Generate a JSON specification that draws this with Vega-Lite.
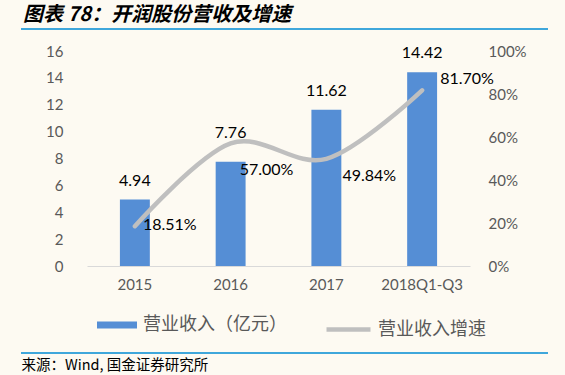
{
  "$schema": "https://vega.github.io/schema/vega-lite/v6.json",
  "width": 383,
  "height": 215,
  "autosize": {"type": "none"},
  "padding": {"left": 87, "top": 51, "right": 95, "bottom": 109},
  "background": "#FDFAF2",
  "config": {
    "view": {"stroke": null},
    "axis": {"labelFont": "Lato", "labelFontSize": 15, "labelColor": "#595959", "ticks": false, "grid": false, "domain": false, "labelOverlap": false}
  },
  "title": {
    "text": "图表 78：开润股份营收及增速",
    "anchor": "start",
    "frame": "group",
    "dx": -64,
    "offset": 3,
    "font": "Noto Sans CJK SC",
    "fontSize": 20,
    "fontWeight": "bold",
    "fontStyle": "italic",
    "color": "#000000"
  },
  "data": {
    "values": [
      {"year": "2015", "revenue": 4.94, "growth": 0.1851, "revLabel": "4.94", "growthLabel": "18.51%"},
      {"year": "2016", "revenue": 7.76, "growth": 0.57, "revLabel": "7.76", "growthLabel": "57.00%"},
      {"year": "2017", "revenue": 11.62, "growth": 0.4984, "revLabel": "11.62", "growthLabel": "49.84%"},
      {"year": "2018Q1-Q3", "revenue": 14.42, "growth": 0.817, "revLabel": "14.42", "growthLabel": "81.70%"}
    ]
  },
  "encoding": {
    "x": {
      "field": "year",
      "type": "ordinal",
      "sort": null,
      "scale": {"paddingInner": 0.6875, "paddingOuter": 0.34375},
      "axis": {
        "labelAngle": 0,
        "labelPadding": 11,
        "domain": true,
        "domainColor": "#D9D9D9",
        "domainWidth": 1,
        "title": "来源：Wind, 国金证券研究所",
        "titleX": -66,
        "titleY": 99,
        "titleAlign": "left",
        "titleBaseline": "middle",
        "titleAnchor": null,
        "titleFont": "Noto Sans CJK SC",
        "titleFontSize": 14.5,
        "titleFontWeight": "normal",
        "titleColor": "#000000"
      }
    }
  },
  "layer": [
    {
      "encoding": {
        "y": {"field": "revenue", "type": "quantitative", "scale": {"domain": [0, 16], "nice": false},
          "axis": {"orient": "left", "values": [0, 2, 4, 6, 8, 10, 12, 14, 16], "labelOverlap": false, "labelPadding": 24, "title": null}}
      },
      "layer": [
        {
          "mark": {"type": "bar"},
          "encoding": {
            "fill": {"datum": "营业收入（亿元）", "type": "nominal",
              "scale": {"domain": ["营业收入（亿元）"], "range": ["#558ED5"]},
              "legend": {"orient": "none", "legendX": 10, "legendY": 254, "title": null, "padding": 0,
                "symbolType": "M-1,-0.175H1V0.175H-1Z", "symbolSize": 1600, "symbolStrokeWidth": 0,
                "labelFont": "Noto Sans CJK SC", "labelFontSize": 18, "labelColor": "#595959", "labelOffset": 6}}
          }
        },
        {
          "transform": [{"filter": "datum.year != '2016'"}],
          "mark": {"type": "text", "font": "Lato", "fontSize": 16, "color": "#000000", "baseline": "middle", "dy": -19},
          "encoding": {"text": {"field": "revLabel"}}
        },
        {
          "transform": [{"filter": "datum.year == '2016'"}],
          "mark": {"type": "text", "font": "Lato", "fontSize": 16, "color": "#000000", "baseline": "middle", "dy": -29},
          "encoding": {"text": {"field": "revLabel"}}
        }
      ]
    },
    {
      "encoding": {
        "y": {"field": "growth", "type": "quantitative", "scale": {"domain": [0, 1], "nice": false},
          "axis": {"orient": "right", "values": [0, 0.2, 0.4, 0.6, 0.8, 1], "format": ".0%", "labelOverlap": false, "labelPadding": 18, "title": null}}
      },
      "layer": [
        {
          "mark": {"type": "line", "interpolate": "cardinal", "strokeWidth": 4.5, "strokeCap": "round"},
          "encoding": {
            "stroke": {"datum": "营业收入增速", "type": "nominal",
              "scale": {"domain": ["营业收入增速"], "range": ["#BFBFBF"]},
              "legend": {"orient": "none", "legendX": 237, "legendY": 254, "title": null, "padding": 0,
                "symbolType": "stroke", "symbolSize": 1936, "symbolStrokeWidth": 4.5,
                "labelFont": "Noto Sans CJK SC", "labelFontSize": 18, "labelColor": "#595959", "labelOffset": 5}}
          }
        },
        {
          "transform": [{"filter": "datum.year == '2015'"}],
          "mark": {"type": "text", "font": "Lato", "fontSize": 16, "color": "#000000", "align": "left", "baseline": "middle", "dx": 8, "dy": -1},
          "encoding": {"text": {"field": "growthLabel"}}
        },
        {
          "transform": [{"filter": "datum.year == '2016'"}],
          "mark": {"type": "text", "font": "Lato", "fontSize": 16, "color": "#000000", "align": "left", "baseline": "middle", "dx": 9, "dy": 27},
          "encoding": {"text": {"field": "growthLabel"}}
        },
        {
          "transform": [{"filter": "datum.year == '2017'"}],
          "mark": {"type": "text", "font": "Lato", "fontSize": 16, "color": "#000000", "align": "left", "baseline": "middle", "dx": 16, "dy": 17},
          "encoding": {"text": {"field": "growthLabel"}}
        },
        {
          "transform": [{"filter": "datum.year == '2018Q1-Q3'"}],
          "mark": {"type": "text", "font": "Lato", "fontSize": 16, "color": "#000000", "align": "left", "baseline": "middle", "dx": 18, "dy": -11},
          "encoding": {"text": {"field": "growthLabel"}}
        }
      ]
    },
    {
      "mark": {"type": "rule", "color": "#3FA7DB", "strokeWidth": 2},
      "encoding": {"x": {"value": -66}, "x2": {"value": 461}, "y": {"value": -22}}
    },
    {
      "mark": {"type": "rule", "color": "#3FA7DB", "strokeWidth": 2},
      "encoding": {"x": {"value": -66}, "x2": {"value": 461}, "y": {"value": 302}}
    }
  ],
  "resolve": {"scale": {"y": "independent", "fill": "independent", "stroke": "independent"}}
}
